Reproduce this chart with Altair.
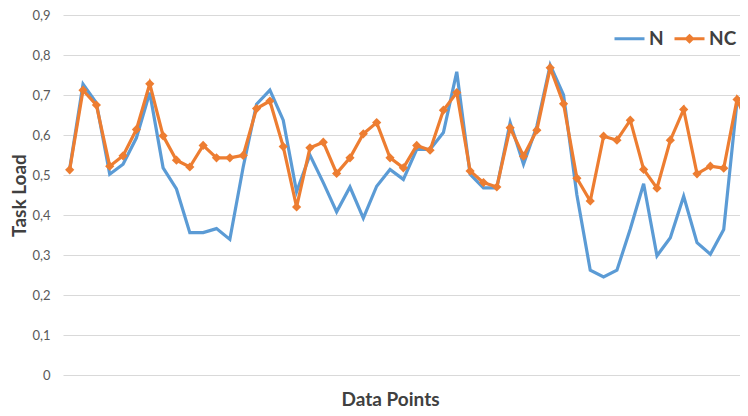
import altair as alt
import pandas as pd

series_names = ["N", "NC"]
series_colors = ["#5B9BD5", "#ED7D31"]

n_vals = [0.515, 0.727, 0.680, 0.502, 0.527, 0.593, 0.706, 0.518, 0.465, 0.356,
          0.356, 0.366, 0.339, 0.520, 0.677, 0.712, 0.637, 0.458, 0.550, 0.481,
          0.408, 0.470, 0.392, 0.472, 0.514, 0.489, 0.564, 0.564, 0.606, 0.758,
          0.502, 0.468, 0.468, 0.631, 0.527, 0.622, 0.775, 0.700, 0.450, 0.262,
          0.245, 0.262, 0.365, 0.478, 0.298, 0.343, 0.447, 0.331, 0.302, 0.364,
          0.685, 0.710]
nc_vals = [0.513, 0.712, 0.675, 0.522, 0.548, 0.614, 0.728, 0.598, 0.537, 0.520,
           0.574, 0.543, 0.543, 0.549, 0.666, 0.685, 0.571, 0.420, 0.568, 0.582,
           0.504, 0.543, 0.603, 0.631, 0.543, 0.518, 0.574, 0.562, 0.662, 0.706,
           0.510, 0.481, 0.470, 0.618, 0.547, 0.612, 0.768, 0.678, 0.492, 0.435,
           0.597, 0.587, 0.637, 0.514, 0.467, 0.587, 0.664, 0.503, 0.522, 0.517,
           0.689, 0.614]
y_ticks = [0, 0.1, 0.2, 0.3, 0.4, 0.5, 0.6, 0.7, 0.8, 0.9]

idx = list(range(len(n_vals)))
df = pd.DataFrame({
    "idx": idx + idx,
    "value": n_vals + nc_vals,
    "series": ["N"] * len(n_vals) + ["NC"] * len(nc_vals),
})

line_path = "M-1,0L1,0"
diamond_path = "M-1,0L1,0M0,-0.2L0.2,0L0,0.2L-0.2,0Z"

FONT = "Lato"

x = alt.X("idx:Q",
          scale=alt.Scale(domain=[-0.5, 50.22], nice=False, zero=False),
          axis=alt.Axis(labels=False, ticks=False, domain=False, grid=False,
                        title="Data Points", titleFont=FONT, titleFontSize=19,
                        titleFontWeight="bold", titleColor="#404040",
                        titlePadding=15, titleX=327))
y = alt.Y("value:Q",
          scale=alt.Scale(domain=[0, 0.9], nice=False),
          axis=alt.Axis(values=y_ticks,
                        labelExpr="datum.value == 0 ? '0' : replace(format(datum.value, '.1f'), '.', ',')",
                        labelFont=FONT, labelFontSize=13, labelColor="#595959",
                        labelPadding=13, ticks=False, domain=False,
                        grid=True, gridColor="#D9D9D9", gridWidth=1,
                        title="Task Load", titleFont=FONT, titleFontSize=19,
                        titleFontWeight="bold", titleColor="#404040",
                        titlePadding=2))
color_scale = alt.Scale(domain=series_names, range=series_colors)
shape_scale = alt.Scale(domain=series_names, range=[line_path, diamond_path])

legend_props = dict(
    title=None, orient="none", legendX=550, legendY=7,
    direction="horizontal", padding=0,
    labelFont=FONT, labelFontSize=19, labelFontWeight="bold",
    labelColor="#404040", labelOffset=3, columnPadding=4,
    symbolSize=900, symbolStrokeWidth=3,
)

legend_layer = alt.Chart(df).transform_filter("false").mark_point(
    filled=False, strokeWidth=3, size=900, opacity=1
).encode(
    x=x, y=y,
    color=alt.Color("series:N", scale=color_scale, legend=alt.Legend(**legend_props)),
    shape=alt.Shape("series:N", scale=shape_scale, legend=alt.Legend(**legend_props)),
)

lines = alt.Chart(df).mark_line(strokeWidth=3.2, clip=True).encode(
    x=x, y=y, color=alt.Color("series:N", scale=color_scale, legend=alt.Legend(**legend_props)),
    detail="series:N")

nc_points = alt.Chart(df).transform_filter(
    alt.datum.series == "NC"
).mark_point(filled=True, shape="diamond", size=85, opacity=1, clip=True).encode(
    x=x, y=y, color=alt.Color("series:N", scale=color_scale, legend=alt.Legend(**legend_props)))

chart = alt.layer(legend_layer, lines, nc_points).properties(
    width=677, height=360,
    autosize=alt.AutoSizeParams(type="none"),
    padding={"left": 55, "top": 7, "right": 0, "bottom": 33},
    background="white",
).configure_view(stroke=None)

chart.save("out.html", embed_options={"renderer": "svg", "actions": False})
